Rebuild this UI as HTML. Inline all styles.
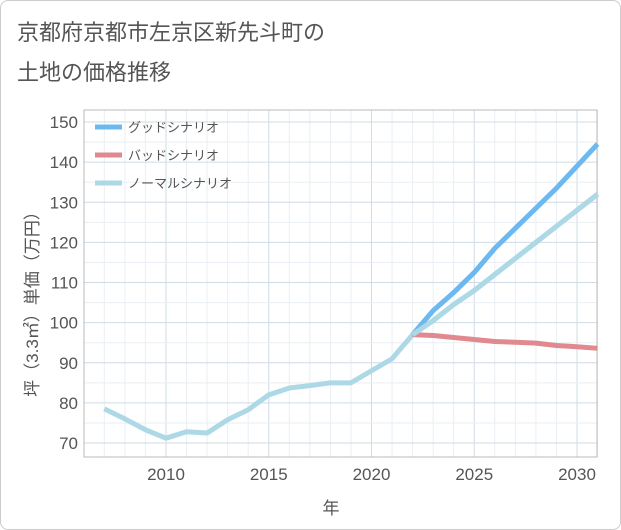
<!DOCTYPE html>
<html><head><meta charset="utf-8"><style>
body{margin:0;background:#fff;font-family:"Liberation Sans","Noto Sans CJK JP",sans-serif;}
.card{position:absolute;left:0;top:0;width:619px;height:528px;border:1px solid #ccc;border-radius:8px;background:#fff;}
.title{position:absolute;left:16px;top:12px;font-size:22px;line-height:40px;color:#555;}
</style></head><body>
<div class="card">
<div class="title">京都府京都市左京区新先斗町の<br>土地の価格推移</div>
<svg id="c" width="621" height="530" style="position:absolute;left:-1px;top:-1px"></svg>
</div>
<script>
const years=[2007,2008,2009,2010,2011,2012,2013,2014,2015,2016,2017,2018,2019,2020,2021,2022,2023,2024,2025,2026,2027,2028,2029,2030,2031];
const normal=[78.5,76,73.3,71.2,72.8,72.5,75.8,78.3,82,83.7,84.3,85,85,88,91,97,100.5,104.5,108,112,116,120,124,128,132];
const goodYears=[2022,2023,2024,2025,2026,2027,2028,2029,2030,2031];
const good=[97,103,107.5,112.5,118.5,123.5,128.5,133.5,139,144.5];
const bad=[97,96.8,96.3,95.8,95.3,95.1,94.9,94.3,94,93.6];
const xTicks=[2010,2015,2020,2025,2030];
const yTicks=[70,80,90,100,110,120,130,140,150];
const L=84,R=597,T=110,B=457;
const x=v=>166+(v-2010)*20.55;
const y=v=>443-(v-70)*4.0125;
const svg=document.getElementById('c');const NS='http://www.w3.org/2000/svg';
function mk(t,a,p){const e=document.createElementNS(NS,t);for(const k in a)e.setAttribute(k,a[k]);(p||svg).appendChild(e);return e;}
let e;
for(let yr=2007;yr<=2031;yr++){e=mk('line',{x1:x(yr),x2:x(yr),y1:T,y2:B,stroke:xTicks.includes(yr)?'#cfdce6':'#e9eff4','stroke-width':1});
}
for(let v=70;v<=152;v+=5){if(y(v)<T)continue;e=mk('line',{x1:L,x2:R,y1:y(v),y2:y(v),stroke:v%10==0?'#cfdce6':'#e9eff4','stroke-width':1});
}
e=mk('rect',{x:L,y:T,width:R-L,height:B-T,fill:'none',stroke:'#bbb'});

yTicks.forEach(v=>{e=mk('text',{x:78,y:y(v)+6,'text-anchor':'end','font-size':17,fill:'#555'});e.textContent=v;
});
xTicks.forEach(v=>{e=mk('text',{x:x(v),y:480,'text-anchor':'middle','font-size':17,fill:'#555'});e.textContent=v;
});
e=mk('text',{x:331,y:514,'text-anchor':'middle','font-size':17,fill:'#555'});e.textContent='年';

e=mk('text',{x:0,y:0,'text-anchor':'middle','font-size':17,fill:'#555',transform:'translate(38,300) rotate(-90)'});e.textContent='坪（3.3㎡）単価（万円）';

function line(xs,vs,c,name){const p=xs.map((yr,i)=>(i?'L':'M')+x(yr)+','+y(vs[i])).join('');
const el=mk('path',{d:p,fill:'none',stroke:c,'stroke-width':5,'stroke-linejoin':'round'});
}
line(years,normal,'#add8e6','normal-scenario-line');
line(goodYears,bad,'#e08a8f','bad-scenario-line');
line(goodYears,good,'#6cb8ef','good-scenario-line');
line(goodYears,normal.slice(15),'#add8e6','normal-scenario-forecast');
const legend=[['グッドシナリオ','#6cb8ef'],['バッドシナリオ','#e08a8f'],['ノーマルシナリオ','#add8e6']];
legend.forEach((l,i)=>{const yy=127+i*28;
e=mk('line',{x1:95,x2:122,y1:yy,y2:yy,stroke:l[1],'stroke-width':5});
e=mk('text',{x:128,y:yy+5,'font-size':13,fill:'#555'});e.textContent=l[0];});
</script></body></html>
